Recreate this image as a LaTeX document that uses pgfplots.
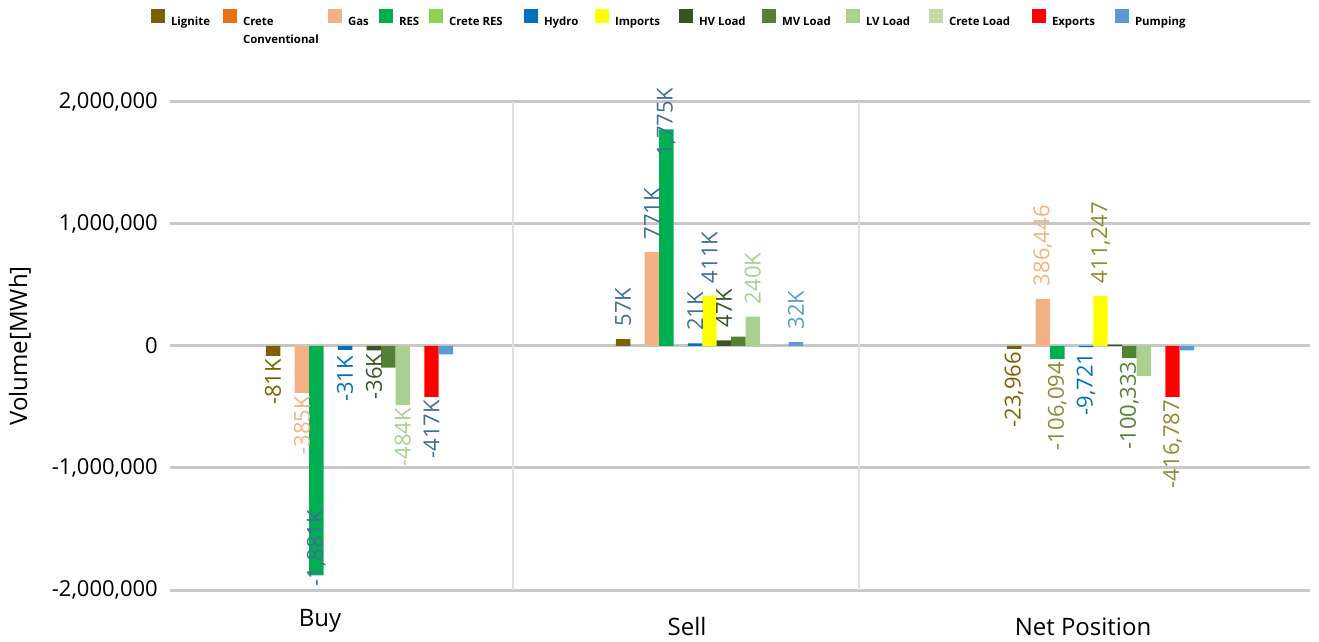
\documentclass[border=0pt]{standalone}
\usepackage{pgfplots}
\pgfplotsset{compat=1.18}
\usepackage{fontspec}
\setmainfont{Open Sans}

% series colours
\definecolor{cLig}{HTML}{7F6000}
\definecolor{cCrC}{HTML}{E97112}
\definecolor{cGas}{HTML}{F4B183}
\definecolor{cRES}{HTML}{00B050}
\definecolor{cCrR}{HTML}{92D050}
\definecolor{cHyd}{HTML}{0070C0}
\definecolor{cImp}{HTML}{FFFF00}
\definecolor{cHV}{HTML}{375623}
\definecolor{cMV}{HTML}{548235}
\definecolor{cLV}{HTML}{A9D08E}
\definecolor{cCrL}{HTML}{C5D9A0}
\definecolor{cExp}{HTML}{FF0000}
\definecolor{cPmp}{HTML}{5B9BD5}
% label colours
\definecolor{cBG}{HTML}{3F6F9C}
\definecolor{cOl}{HTML}{8C8C32}
\definecolor{gridgray}{HTML}{C8C8C8}
\definecolor{sepgray}{HTML}{E0E0E0}

% value labels: text running upward from the bar end / ending at the bar end
\NewDocumentCommand\lblup{mmm}{\textcolor{#1}{\rlap{\hspace{#2}#3}}}
\NewDocumentCommand\lbldn{mmm}{\textcolor{#1}{\llap{#3\hspace{#2}}}}
\NewDocumentCommand\legtext{mm}{\makebox[#1][l]{#2}}

\begin{document}
\begin{tikzpicture}
\useasboundingbox (0,0) rectangle (1319pt,642pt);
\begin{axis}[
  at={(170pt,52pt)}, anchor=south west,
  scale only axis, width=1140pt, height=488pt,
  xmin=170, xmax=1310, ymin=-2000000, ymax=2000000,
  clip=false,
  ybar=0pt, bar width=14.4pt,
  every axis plot/.append style={
    draw=none,
    legend image code/.code={\path[##1] (0pt,-1pt) rectangle (14pt,13pt);}},
  axis line style={draw=none}, major tick style={draw=none},
  ytick={-2000000,-1000000,0,1000000,2000000},
  scaled y ticks=false,
  ymajorgrids, major grid style={draw=gridgray, line width=3pt},
  yticklabel style={font=\fontsize{22}{24}\selectfont,
    /pgf/number format/fixed, /pgf/number format/1000 sep={,},
    /pgf/number format/assume math mode=true,
    anchor=east, inner sep=0pt, xshift=-12pt},
  xtick={320,687,1083},
  xticklabels={\raisebox{9pt}{Buy},Sell,Net Position},
  xticklabel style={font=\fontsize{24}{26}\selectfont, anchor=base, inner sep=0pt, yshift=-41pt},
  extra x ticks={513,859}, extra x tick labels={},
  extra x tick style={xmajorgrids, major grid style={draw=sepgray, line width=1.8pt}},
  every axis y label/.style={at={(axis description cs:-0.1316,0.5)}, rotate=90, anchor=center},
  ylabel={Volume[MWh]},
  ylabel style={font=\fontsize{24}{26}\selectfont},
  point meta=explicit symbolic,
  nodes near coords,
  every node near coord/.append style={rotate=90, anchor=west, inner sep=0pt,
    font=\fontsize{22}{24}\selectfont},
  legend columns=-1,
  legend style={at={(axis description cs:-0.01667,1.1906)}, anchor=north west,
    draw=none, fill=none, inner sep=0pt, outer sep=0pt,
    font=\fontsize{11.4}{13}\selectfont\bfseries,
    nodes={inner sep=0pt},
    /tikz/every odd column/.append style={column sep=6pt},
    /tikz/every even column/.append style={column sep=0pt}},
]
% groups: Buy at 359.5, Sell at 709.5, Net Position at 1100.5
\addplot[fill=cLig] coordinates {(359.5,-81000) [\lbldn{cLig}{4pt}{-81K}] (709.5,57000) [\lblup{cBG}{12pt}{57K}] (1100.5,-23966) [\lbldn{cLig}{4pt}{-23,966}]};
\addlegendentry{\legtext{52pt}{Lignite}}
\addplot[fill=cCrC] coordinates {(359.5,0) [{}] (709.5,0) [{}] (1100.5,0) [{}]};
\addlegendentry{\legtext{85pt}{\vtop{\baselineskip=18pt\hbox{Crete}\hbox{Conventional}}}}
\addplot[fill=cGas] coordinates {(359.5,-385000) [\lbldn{cGas}{4pt}{-385K}] (709.5,771000) [\lblup{cBG}{12pt}{771K}] (1100.5,386446) [\lblup{cGas}{12pt}{386,446}]};
\addlegendentry{\legtext{31pt}{Gas}}
\addplot[fill=cRES] coordinates {(359.5,-1881000) [\lblup{cBG}{-11.5pt}{-1,881K}] (709.5,1775000) [\lblup{cBG}{-28pt}{1,775K}] (1100.5,-106094) [\lbldn{cOl}{4pt}{-106,094}]};
\addlegendentry{\legtext{30pt}{RES}}
\addplot[fill=cCrR] coordinates {(359.5,0) [{}] (709.5,0) [{}] (1100.5,0) [{}]};
\addlegendentry{\legtext{75pt}{Crete RES}}
\addplot[fill=cHyd] coordinates {(359.5,-31000) [\lbldn{cHyd}{7pt}{-31K}] (709.5,21000) [\lblup{cBG}{12pt}{21K}] (1100.5,-9721) [\lbldn{cHyd}{6pt}{-9,721}]};
\addlegendentry{\legtext{51pt}{Hydro}}
\addplot[fill=cImp] coordinates {(359.5,0) [{}] (709.5,411000) [\lblup{cBG}{12pt}{411K}] (1100.5,411247) [\lblup{cOl}{12pt}{411,247}]};
\addlegendentry{\legtext{64pt}{Imports}}
\addplot[fill=cHV] coordinates {(359.5,-36000) [\lbldn{cHV}{4pt}{-36K}] (709.5,47000) [\lblup{cHV}{12pt}{47K}] (1100.5,11000) [{}]};
\addlegendentry{\legtext{63pt}{HV Load}}
\addplot[fill=cMV] coordinates {(359.5,-176500) [{}] (709.5,76167) [{}] (1100.5,-100333) [\lbldn{cMV}{4pt}{-100,333}]};
\addlegendentry{\legtext{64pt}{MV Load}}
\addplot[fill=cLV] coordinates {(359.5,-484000) [\lbldn{cLV}{4pt}{-484K}] (709.5,240000) [\lblup{cLV}{12pt}{240K}] (1100.5,-244000) [{}]};
\addlegendentry{\legtext{63pt}{LV Load}}
\addplot[fill=cCrL] coordinates {(359.5,0) [{}] (709.5,0) [{}] (1100.5,0) [{}]};
\addlegendentry{\legtext{83pt}{Crete Load}}
\addplot[fill=cExp] coordinates {(359.5,-416787) [\lbldn{cBG}{4pt}{-417K}] (709.5,0) [{}] (1100.5,-416787) [\lbldn{cOl}{4pt}{-416,787}]};
\addlegendentry{\legtext{63pt}{Exports}}
\addplot[fill=cPmp] coordinates {(359.5,-68000) [{}] (709.5,32000) [\lblup{cPmp}{12pt}{32K}] (1100.5,-36000) [{}]};
\addlegendentry{Pumping}
\end{axis}
\end{tikzpicture}
\end{document}
